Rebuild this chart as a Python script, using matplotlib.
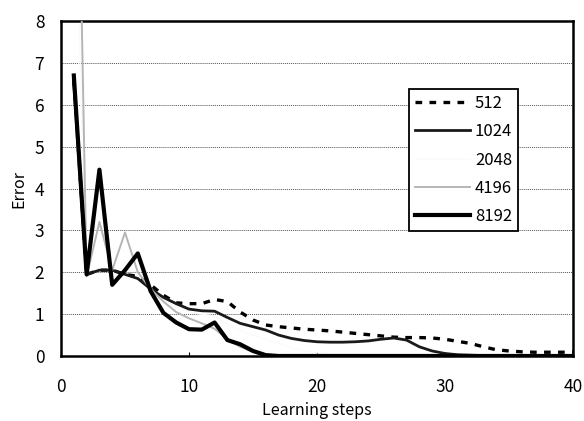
import matplotlib

matplotlib.use("Agg")
import matplotlib.pyplot as plt

plt.rcParams["font.family"] = ["Noto Sans CJK JP", "DejaVu Sans"]

steps = list(range(1, 41))

err_512 = [6.6, 1.95, 2.05, 2.05, 1.95, 1.9, 1.7, 1.45, 1.27, 1.25,
           1.25, 1.35, 1.3, 1.05, 0.86, 0.74, 0.7, 0.67, 0.64, 0.62,
           0.6, 0.57, 0.54, 0.51, 0.48, 0.45, 0.44, 0.44, 0.43, 0.4,
           0.35, 0.3, 0.22, 0.15, 0.12, 0.1, 0.09, 0.09, 0.09, 0.09]
err_1024 = [6.5, 1.95, 2.05, 2.05, 1.95, 1.85, 1.6, 1.4, 1.25, 1.12,
            1.08, 1.07, 0.92, 0.78, 0.7, 0.62, 0.5, 0.42, 0.37, 0.34,
            0.33, 0.33, 0.34, 0.36, 0.4, 0.43, 0.38, 0.22, 0.12, 0.06,
            0.03, 0.02, 0.01, 0.01, 0.01, 0.01, 0.01, 0.01, 0.01, 0.01]
err_2048 = [12.0, 1.9, 2.1, 2.0, 1.95, 1.85, 1.6, 1.35, 1.15, 1.05,
            1.0, 0.95, 0.75, 0.6, 0.5, 0.4, 0.3, 0.2, 0.12, 0.08,
            0.05, 0.05, 0.04, 0.03, 0.02, 0.01, 0.01, 0.0, 0.0, 0.0,
            0.0, 0.0, 0.0, 0.0, 0.0, 0.0, 0.0, 0.0, 0.0, 0.0]
err_4196 = [18.0, 1.9, 3.2, 2.05, 2.95, 2.0, 1.6, 1.3, 1.05, 0.9,
            0.78, 0.65, 0.4, 0.22, 0.1, 0.04, 0.01, 0.0, 0.0, 0.0,
            0.0, 0.0, 0.0, 0.0, 0.0, 0.0, 0.0, 0.0, 0.0, 0.0,
            0.0, 0.0, 0.0, 0.0, 0.0, 0.0, 0.0, 0.0, 0.0, 0.0]
err_8192 = [6.7, 1.95, 4.45, 1.7, 2.05, 2.45, 1.55, 1.03, 0.8, 0.64,
            0.63, 0.8, 0.38, 0.28, 0.12, 0.02, 0.0, 0.0, 0.0, 0.0,
            0.0, 0.0, 0.0, 0.0, 0.0, 0.0, 0.0, 0.0, 0.0, 0.0,
            0.0, 0.0, 0.0, 0.0, 0.0, 0.0, 0.0, 0.0, 0.0, 0.0]

fig = plt.figure(figsize=(5.84, 4.21), dpi=100)
ax = fig.add_axes([0.1045, 0.1544, 0.8765, 0.7956])

ax.plot(steps, err_512, color="black", linewidth=2.4, dashes=(2.0, 2.2),
        label="512", zorder=3)
ax.plot(steps, err_1024, color="#1a1a1a", linewidth=2.0, label="1024", zorder=3)
ax.plot(steps, err_2048, color="#fbfbfb", linewidth=1.2, label="2048", zorder=2)
ax.plot(steps, err_4196, color="#b5b5b5", linewidth=1.4, label="4196", zorder=3)
ax.plot(steps, err_8192, color="black", linewidth=3.0, label="8192", zorder=4,
        solid_joinstyle="round")

ax.set_xlim(0, 40)
ax.set_ylim(0, 8)
ax.set_xticks([0, 10, 20, 30, 40])
ax.set_yticks(range(0, 9))
ax.yaxis.grid(True, linestyle=(0, (1, 1)), color="#555555", linewidth=0.7)
ax.set_axisbelow(True)

for sp in ax.spines.values():
    sp.set_linewidth(1.8)
    sp.set_color("black")

ax.tick_params(axis="x", direction="in", length=3, width=0.8, pad=16,
               labelsize=12.5)
ax.tick_params(axis="y", length=0, pad=12, labelsize=12.5)

ax.set_xlabel("Learning steps", fontsize=11.5, labelpad=4)
ax.set_ylabel("Error", fontsize=11.5, labelpad=5)

leg = ax.legend(loc="upper left", bbox_to_anchor=(0.68, 0.797),
                borderaxespad=0, fancybox=False, framealpha=1,
                edgecolor="black", fontsize=12, handlelength=3.3,
                handletextpad=0.3, labelspacing=0.68, borderpad=0.35)
leg.get_frame().set_linewidth(1.3)

fig.savefig("out.png", dpi=100)
